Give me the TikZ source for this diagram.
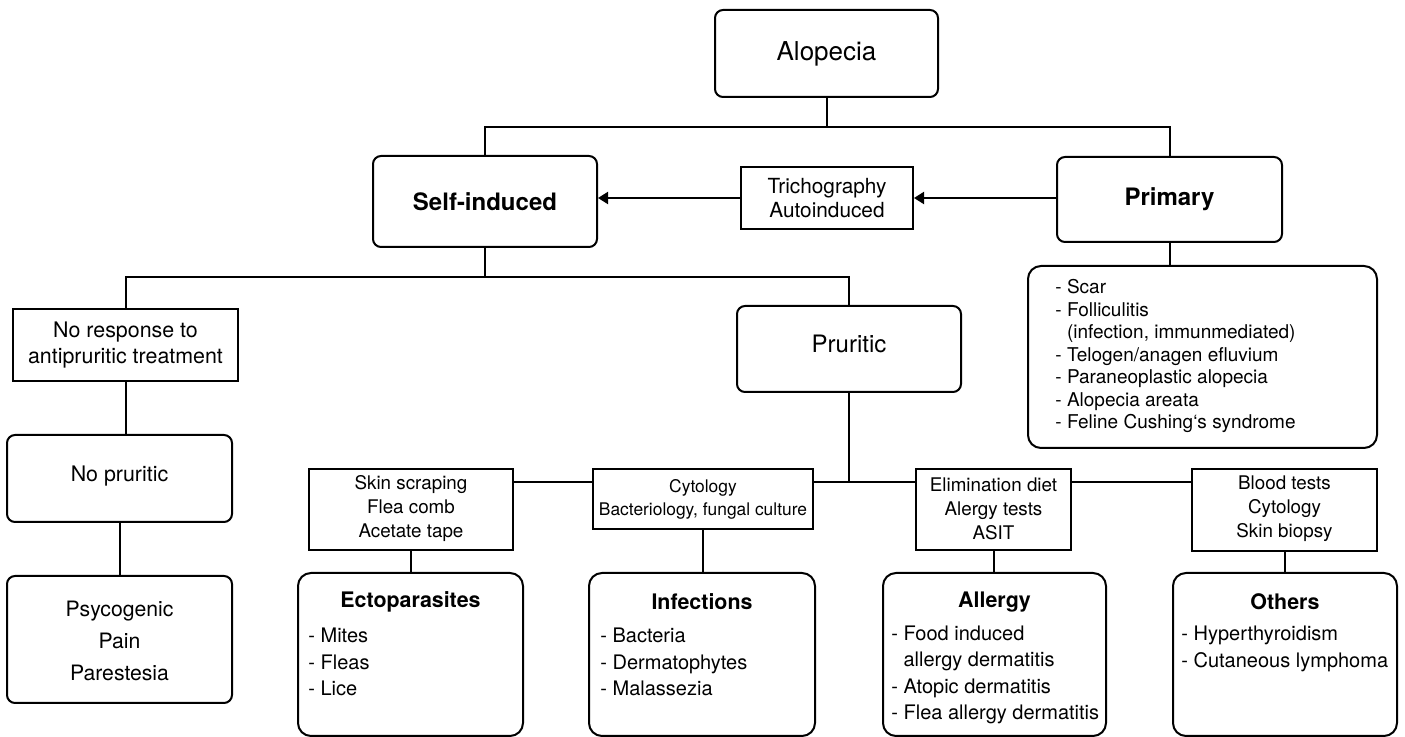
\documentclass[tikz,border=0pt]{standalone}
\usepackage{fontspec}
\setmainfont{TeX Gyre Heros}
\usetikzlibrary{fit,arrows.meta}
\begin{document}
\begin{tikzpicture}[x=0.5pt,y=-0.5pt,
  rbox/.style={draw, line width=1pt, rounded corners=4pt, inner sep=0pt},
  rbig/.style={draw, line width=1pt, rounded corners=6.5pt, inner sep=0pt},
  sbox/.style={draw, line width=1pt, inner sep=0pt},
  conn/.style={line width=1pt},
  arr/.style={line width=1pt, -{Triangle[length=5pt,width=6pt]}},
  txt/.style={inner sep=0pt, align=center},
  ltxt/.style={inner sep=0pt, align=left, anchor=west},
  fbig/.style={font=\fontsize{13}{15.6}\selectfont},
  fbold/.style={font=\fontsize{12}{14.4}\selectfont\bfseries},
  fmid/.style={font=\fontsize{10.7}{13}\selectfont},
  ftest/.style={font=\fontsize{9.4}{12}\selectfont},
  ftitle/.style={font=\fontsize{10.7}{13}\selectfont\bfseries},
  fitem/.style={font=\fontsize{10}{13.25}\selectfont},
]
\useasboundingbox (0,0) rectangle (1405,737);

% top level
\node[rbox, fit={(715,10)(938,97)}] (alo) {};
\node[txt, fbig] (alotxt) at (alo.center) {Alopecia};
\node[rbox, fit={(373,156)(597,247)}] (self) {};
\node[txt, fbold] (selftxt) at (self.center) {Self-induced};
\node[sbox, fit={(741,167)(913,229)}] (tri) {};
\node[txt, font=\fontsize{10.4}{12.2}\selectfont] (tritxt) at (tri.center) {Trichography\\Autoinduced};
\node[rbox, fit={(1057,157)(1282,242)}] (prim) {};
\node[txt, fbold] (primtxt) at (prim.center) {Primary};

% primary list
\node[rbig, fit={(1028,266)(1377,448)}] (plist) {};
\node[ltxt, font=\fontsize{9.5}{11.25}\selectfont] (plisttxt) at (1055,356)
  {- Scar\\- Folliculitis\\\hphantom{- }(infection, immunmediated)\\- Telogen/anagen efluvium\\- Paraneoplastic alopecia\\- Alopecia areata\\- Feline Cushing‘s syndrome};

% second level
\node[sbox, fit={(13,309)(238,381)}] (nores) {};
\node[txt, fmid] (norestxt) at (nores.center) {No response to\\antipruritic treatment};
\node[rbox, fit={(737,306)(961,392)}] (prur) {};
\node[txt, font=\fontsize{12}{14.4}\selectfont] (prurtxt) at (849,344) {Pruritic};

% left branch
\node[rbox, fit={(7,435)(232,522)}] (nopr) {};
\node[txt, fmid] (noprtxt) at (119.5,476) {No pruritic};
\node[rbox, fit={(7,576)(232,703)}] (psy) {};
\node[txt, font=\fontsize{10.6}{16}\selectfont] (psytxt) at (119.5,641) {Psycogenic\\Pain\\Parestesia};

% test boxes
\node[sbox, fit={(309,469)(513,550)}] (skin) {};
\node[txt, ftest] (skintxt) at (411,509) {Skin scraping\\Flea comb\\Acetate tape};
\node[sbox, fit={(593,469)(813,529)}] (cyto) {};
\node[txt, font=\fontsize{8.7}{11.5}\selectfont] (cytotxt) at (703,499) {Cytology\\Bacteriology, fungal culture};
\node[sbox, fit={(916,469)(1071,550)}] (elim) {};
\node[txt, ftest] (elimtxt) at (993.5,509) {Elimination diet\\Alergy tests\\ASIT};
\node[sbox, fit={(1192,469)(1377,551)}] (blood) {};
\node[txt, ftest] (bloodtxt) at (1284.5,509) {Blood tests\\Cytology\\Skin biopsy};

% bottom boxes
\node[rbig, fit={(298,573)(523,736)}] (ecto) {};
\node[txt, ftitle] (ectot) at (410.5,602) {Ectoparasites};
\node[ltxt, fitem] (ectoi) at (308,662) {- Mites\\- Fleas\\- Lice};

\node[rbig, fit={(589,573)(815,736)}] (inf) {};
\node[txt, ftitle] (inft) at (702,602) {Infections};
\node[ltxt, fitem] (infi) at (600,662) {- Bacteria\\- Dermatophytes\\- Malassezia};

\node[rbig, fit={(883,573)(1106,736)}] (all) {};
\node[txt, ftitle] (allt) at (994.5,602) {Allergy};
\node[ltxt, fitem] (alli) at (891,675) {- Food induced\\\hphantom{- }allergy dermatitis\\- Atopic dermatitis\\- Flea allergy dermatitis};

\node[rbig, fit={(1173,573)(1397,736)}] (oth) {};
\node[txt, ftitle] (otht) at (1285,602) {Others};
\node[ltxt, fitem] (othi) at (1181,649) {- Hyperthyroidism\\- Cutaneous lymphoma};

% junctions
\coordinate (j1) at (827,127);
\coordinate (j2) at (485,277);
\coordinate (j3) at (849,482);

% connectors
\draw[conn] (alo.south) -- (alo.south |- j1);
\draw[conn] (self.north) -- (self.north |- j1) -- (prim.north |- j1) -- (prim.north);
\draw[arr] (prim.west |- tri.east) -- (tri.east);
\draw[arr] (tri.west) -- (tri.west -| self.east);
\draw[conn] (prim.south) -- (prim.south |- plist.north);
\draw[conn] (self.south) -- (self.south |- j2);
\draw[conn] (nores.north) -- (nores.north |- j2) -- (prur.north |- j2) -- (prur.north);
\draw[conn] (nores.south) -- (nores.south |- nopr.north);
\draw[conn] (nopr.south) -- (nopr.south |- psy.north);
\draw[conn] (prur.south) -- (prur.south |- j3);
\draw[conn] (skin.east |- j3) -- (cyto.west |- j3);
\draw[conn] (cyto.east |- j3) -- (elim.west |- j3);
\draw[conn] (elim.east |- j3) -- (blood.west |- j3);
\draw[conn] (skin.south) -- (skin.south |- ecto.north);
\draw[conn] (cyto.south) -- (cyto.south |- inf.north);
\draw[conn] (elim.south) -- (elim.south |- all.north);
\draw[conn] (blood.south) -- (blood.south |- oth.north);
\end{tikzpicture}
\end{document}
